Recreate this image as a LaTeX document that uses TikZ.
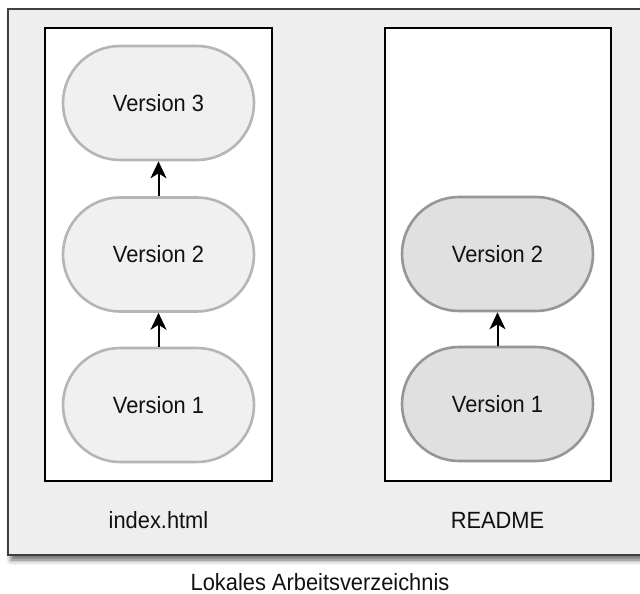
\documentclass[tikz,border=0pt]{standalone}
\usepackage{fontspec}
\setmainfont[FakeStretch=0.93]{Liberation Sans}
\usetikzlibrary{arrows.meta,shadows.blur}

\definecolor{txt}{HTML}{111111}
\definecolor{outerfill}{HTML}{EEEEEE}
\definecolor{outerline}{HTML}{404040}
\definecolor{lightfill}{HTML}{F0F0F0}
\definecolor{lightline}{HTML}{B5B5B5}
\definecolor{darkfill}{HTML}{E0E0E0}
\definecolor{darkline}{HTML}{969696}

\tikzset{
  lbl/.style={font=\fontsize{23.5}{26}\selectfont, text=txt},
  filebox/.style={draw=black, line width=1.8pt, fill=white},
  version/.style={lbl, rounded corners=57pt, minimum width=191pt,
    minimum height=114pt, line width=2.6pt, inner sep=0pt},
  oldver/.style={version, draw=lightline, fill=lightfill},
  newver/.style={version, draw=darkline, fill=darkfill},
  commit/.style={draw=black, line width=2pt,
    -{Stealth[length=17pt,width=16pt,inset=5pt]}}
}

\begin{document}
\begin{tikzpicture}[x=1pt,y=-1pt]
  \useasboundingbox (0,0) rectangle (640,594);
  \clip (0,0) rectangle (640,594);

  % working directory
  \draw[fill=outerfill, draw=outerline, line width=2.2pt,
        blur shadow={shadow xshift=3pt, shadow yshift=-5pt,
                     shadow blur radius=5pt, shadow opacity=60}]
    (8,9) rectangle (660,555);

  % files
  \draw[filebox] (45,28) rectangle (272,481);
  \draw[filebox] (385,28) rectangle (611,481);

  % index.html history
  \node[oldver] (i3) at (158.5,103) {Version 3};
  \node[oldver] (i2) at (158.5,254.5) {Version 2};
  \node[oldver] (i1) at (158.5,405) {Version 1};
  \draw[commit] (i1) -- (i2);
  \draw[commit] (i2) -- (i3);

  % README history
  \node[newver] (r2) at (497.5,254) {Version 2};
  \node[newver] (r1) at (497.5,404) {Version 1};
  \draw[commit] (r1) -- (r2);

  % captions
  \node[lbl] (fi) at (158.5,520) {index.html};
  \node[lbl] (fr) at (497.5,520) {README};
  \node[lbl] (wd) at (320,582) {Lokales Arbeitsverzeichnis};
\end{tikzpicture}
\end{document}
